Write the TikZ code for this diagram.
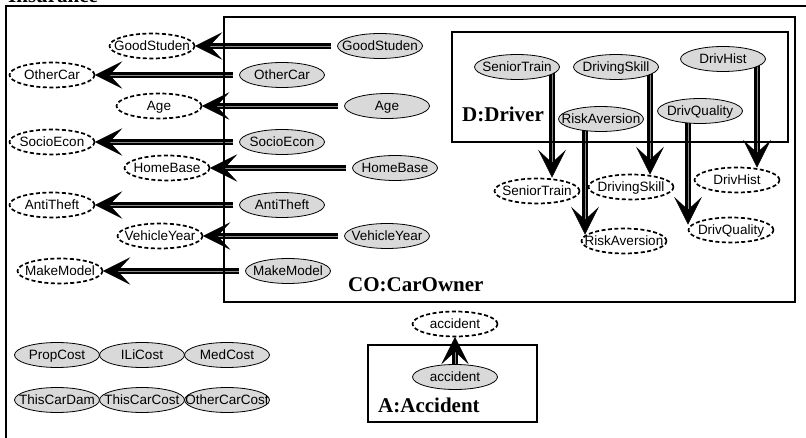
\documentclass[tikz,border=0pt]{standalone}
\usepackage{fontspec}
\setmainfont{Liberation Serif}
\setsansfont{Liberation Sans}
\usetikzlibrary{shapes.geometric}
\pgfdeclarelayer{background}
\pgfsetlayers{background,main}
% centred label that does not widen the ellipse around it
\newcommand\ovtext[1]{\makebox[0pt]{\smash{\raisebox{-0.36em}{#1}}}}
% a thick double connector ending in a large barbed head;
% #4 turns the head: 0 = pointing left, 90 = down, -90 = up
\newcommand\dlink[4][]{%
  \draw[shaft,#1] #2 -- #3;
  \fill[headfill,shift={#3},rotate=#4] (0,0) -- (26,-13) -- (14,0) -- (26,13) -- cycle;}

\begin{document}
\begin{tikzpicture}[x=1pt,y=-1pt,
  var/.style={ellipse, minimum width=85pt, minimum height=25pt, inner sep=0pt,
    font=\sffamily\fontsize{13.5}{16}\selectfont},
  obs/.style={var, draw=black, line width=0.8pt, fill=black!15},
  ghost/.style={var, draw=black, line width=1.7pt, dash pattern=on 4pt off 2.5pt},
  plate/.style={draw=black, line width=2.8pt},
  platename/.style={anchor=base west, inner sep=0pt,
    font=\bfseries\fontsize{21}{25}\selectfont},
  shaft/.style={line width=2.2pt, double=black!45, double distance=0.9pt, shorten >=14pt},
  headfill/.style={fill=black, draw=black, line width=0.5pt, line join=miter},
]
\useasboundingbox (0,0) rectangle (806,438);
\clip (0,0) rectangle (806,438);

% plates
\draw[line width=2pt] (6,6) rectangle (830,460);
\node[platename] (insname) at (8,3) {Insurance};
\draw[plate] (224,17) rectangle (795,302);
\node[platename] (coname) at (348,292) {CO:CarOwner};
\draw[plate] (452,32) rectangle (788,142);
\node[platename] (dname) at (462,122) {D:Driver};
\draw[plate] (368,345) rectangle (537,422);
\node[platename] (aname) at (378,412) {A:Accident};

% car owner variables and their copies outside the plate
\node[obs]   (gsG) at (380,46)  {\ovtext{GoodStuden}};
\node[ghost] (gsD) at (152,46)  {\ovtext{GoodStuden}};
\node[obs]   (ocG) at (282,75)  {\ovtext{OtherCar}};
\node[ghost] (ocD) at (52,75)   {\ovtext{OtherCar}};
\node[obs]   (agG) at (387,106) {\ovtext{Age}};
\node[ghost] (agD) at (159,106) {\ovtext{Age}};
\node[obs]   (seG) at (282,142) {\ovtext{SocioEcon}};
\node[ghost] (seD) at (52,142)  {\ovtext{SocioEcon}};
\node[obs]   (hbG) at (395,168) {\ovtext{HomeBase}};
\node[ghost] (hbD) at (167,168) {\ovtext{HomeBase}};
\node[obs]   (atG) at (282,205) {\ovtext{AntiTheft}};
\node[ghost] (atD) at (52,205)  {\ovtext{AntiTheft}};
\node[obs]   (vyG) at (387,236) {\ovtext{VehicleYear}};
\node[ghost] (vyD) at (160,236) {\ovtext{VehicleYear}};
\node[obs]   (mmG) at (288,271) {\ovtext{MakeModel}};
\node[ghost] (mmD) at (60,271)  {\ovtext{MakeModel}};

% driver variables
\node[obs]   (stG) at (517,67)  {\ovtext{SeniorTrain}};
\node[obs]   (dsG) at (616,67)  {\ovtext{DrivingSkill}};
\node[obs]   (dhG) at (723,59)  {\ovtext{DrivHist}};
\node[obs]   (raG) at (601,119) {\ovtext{RiskAversion}};
\node[obs]   (dqG) at (700,111) {\ovtext{DrivQuality}};
\node[ghost] (stD) at (537,191) {\ovtext{SeniorTrain}};
\node[ghost] (dsD) at (631,187) {\ovtext{DrivingSkill}};
\node[ghost] (dhD) at (737,180) {\ovtext{DrivHist}};
\node[ghost] (raD) at (624,241) {\ovtext{RiskAversion}};
\node[ghost] (dqD) at (731,230) {\ovtext{DrivQuality}};
\coordinate (stT) at (552,177);
\coordinate (dsT) at (650,174);
\coordinate (dhT) at (757,167);
\coordinate (raT) at (585,234);
\coordinate (dqT) at (688,224);

% accident
\node[obs]   (acG) at (455,377) {\ovtext{accident}};
\node[ghost] (acD) at (455,324) {\ovtext{accident}};

% unplated cost variables
\node[obs] (pc)  at (57,355)  {\ovtext{PropCost}};
\node[obs] (ilc) at (142,355) {\ovtext{ILiCost}};
\node[obs] (mc)  at (227,355) {\ovtext{MedCost}};
\node[obs] (tcd) at (57,400)  {\ovtext{ThisCarDam}};
\node[obs] (tcc) at (142,400) {\ovtext{ThisCarCost}};
\node[obs] (occ) at (227,400) {\ovtext{OtherCarCost}};

\begin{pgfonlayer}{background}
  \dlink[shorten <=6pt]{(gsG.west)}{(gsD.east)}{0}
  \dlink[shorten <=6pt]{(ocG.west)}{(ocD.east)}{0}
  \dlink[shorten <=6pt]{(agG.west)}{(agD.east)}{0}
  \dlink[shorten <=6pt]{(seG.west)}{(seD.east)}{0}
  \dlink[shorten <=6pt]{(hbG.west)}{(hbD.east)}{0}
  \dlink[shorten <=6pt]{(atG.west)}{(atD.east)}{0}
  \dlink[shorten <=6pt]{(vyG.west)}{(vyD.east)}{0}
  \dlink[shorten <=6pt]{(mmG.west)}{(mmD.east)}{0}
  \dlink{(stG.center -| stT)}{(stT)}{90}
  \dlink{(dsG.center -| dsT)}{(dsT)}{90}
  \dlink{(dhG.center -| dhT)}{(dhT)}{90}
  \dlink{(raG.center -| raT)}{(raT)}{90}
  \dlink{(dqG.center -| dqT)}{(dqT)}{90}
  \dlink{(acG.north)}{(acD.south)}{-90}
\end{pgfonlayer}
\end{tikzpicture}
\end{document}
